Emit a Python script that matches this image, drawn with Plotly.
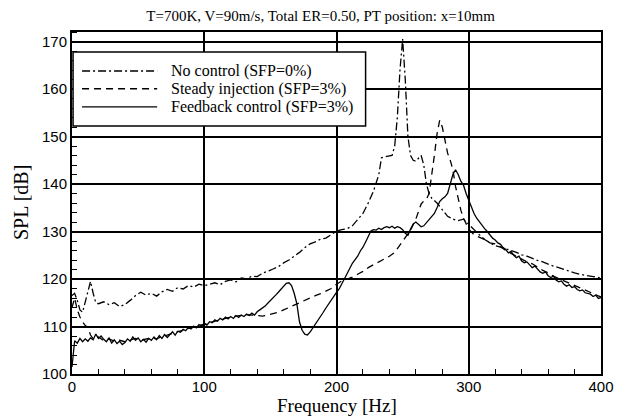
import plotly.graph_objects as go

# ---- data ----
f_noctrl = [0, 2, 4, 6, 8, 10, 12, 14, 16, 18, 20, 24, 28, 32, 36, 40, 44, 48, 52, 56,
            60, 64, 68, 72, 76, 80, 84, 88, 92, 96, 100, 104, 108, 112, 116, 120, 124, 128,
            132, 136, 140, 144, 148, 152, 156, 160, 164, 168, 172, 176, 180, 184, 188, 192,
            196, 200, 204, 208, 212, 216, 220, 224, 228, 232, 234, 238, 242, 244, 246, 248,
            250, 252, 254, 256, 258, 260, 262, 264, 266, 268, 270, 272, 276, 280, 284, 288,
            292, 296, 300, 304, 308, 312, 316, 320, 324, 328, 332, 336, 340, 344, 348, 352,
            356, 360, 364, 368, 372, 376, 380, 384, 388, 392, 396, 400]
spl_noctrl = [116.5, 117, 115.5, 113.5, 113, 115, 117, 119.5, 117, 115, 114.8, 115.2, 114.6,
              115, 114.2, 114.6, 115.5, 116.5, 117.2, 116.6, 117, 116.4, 117.3, 117.8, 117.4,
              118.2, 117.9, 118.6, 118.3, 118.9, 118.6, 118.9, 119.2, 118.8, 119.5, 119.8,
              119.4, 120.2, 120.0, 120.6, 120.5, 121.2, 121.6, 122.1, 122.6, 123.4, 124,
              124.8, 125.6, 126.6, 127.4, 127.8, 128.4, 128.6, 129.3, 130.1, 130.4, 130.6,
              131.2, 132.4, 133.8, 136, 138.5, 142, 145.5, 145.8, 146, 148, 154, 164, 170.5,
              162, 150, 146, 145, 144.8, 145.5, 146, 144, 140, 138, 137, 136, 134.5, 133.2,
              132.6, 132.3, 132.6, 131.5, 130.2, 129.3, 128.3, 127.6, 127, 126.7, 126.4, 126,
              125.6, 125.1, 124.8, 124.3, 123.9, 123.6, 123.1, 122.7, 122.4, 122.0, 121.7,
              121.3, 121.0, 120.8, 120.7, 120.4, 120.2]

f_steady = [0, 2, 4, 6, 8, 10, 12, 14, 16, 20, 24, 28, 32, 36, 40, 44, 48, 52, 56, 60, 64,
            68, 72, 76, 80, 84, 88, 92, 96, 100, 104, 108, 112, 116, 120, 124, 128, 132, 136,
            140, 144, 148, 152, 156, 160, 164, 168, 172, 176, 180, 184, 188, 192, 196, 200,
            204, 208, 212, 216, 220, 224, 228, 232, 236, 240, 244, 248, 252, 256, 260, 262,
            264, 266, 268, 270, 272, 274, 276, 278, 280, 282, 284, 286, 288, 290, 292, 294,
            296, 298, 300, 304, 308, 312, 316, 320, 324, 328, 332, 336, 340, 344, 348, 352,
            356, 360, 364, 368, 372, 376, 380, 384, 388, 392, 396, 400]
spl_steady = [114, 116, 113.5, 112, 111, 110.2, 109.8, 108.2, 107.4, 107.8, 107.0, 107.4,
              106.9, 107.1, 106.8, 107.2, 107.5, 107.1, 107.3, 107.6, 107.4, 107.9, 108.2,
              108.6, 108.9, 109.2, 109.6, 109.9, 110.2, 110.5, 110.8, 111.2, 111.5, 111.8,
              112, 112.2, 112.3, 112.5, 112.4, 112.3, 112.2, 112.4, 112.7, 113, 113.5, 114,
              114.5, 115, 115.6, 116.1, 116.5, 116.9, 117.4, 118, 118.9, 119.6, 120, 120.4,
              121, 121.6, 122.4, 123, 123.6, 124.2, 124.8, 125.6, 127.2, 128.8, 130.3, 132.6,
              134, 135.8, 136.4, 136.8, 138, 141.5, 146, 150.5, 153.4, 152, 149, 146.5, 145,
              143, 139.5, 136.8, 134.5, 132.8, 131.5, 130.5, 129.3, 128.8, 128.3, 127.6,
              127.4, 126.8, 126, 125.4, 124.8, 124.3, 123.6, 123.2, 122.5, 121.8, 121.3,
              120.6, 120.1, 119.6, 119.2, 118.7, 118.1, 117.6, 117.2, 116.6, 116.2]

f_feedback = [0, 1] + list(range(2, 401, 2))
spl_feedback = [101.5, 105, 107, 106.5, 107.5, 106.8, 107.4, 106.9, 107.6, 107.2, 108.4,
                107.5, 108, 107.3, 106.8, 107.6, 106.5, 107.2, 106.4, 106.9, 106.2, 106.6,
                107.4, 106.9, 107.8, 107.1, 107.6, 106.8, 107.3, 106.7, 107.5, 107.1, 107.8,
                107.2, 108.1, 107.5, 108.3, 107.7, 108.4, 108.9, 108.2, 109, 108.8, 109.4,
                109.1, 109.8, 109.5, 110.1, 109.7, 110.4, 110.1, 110.6, 110.3, 111, 110.8,
                111.4, 111.1, 111.7, 111.4, 112, 111.6, 112.1, 111.7, 112.3, 111.9, 112.4,
                112.1, 112.6, 112.3, 112.8, 112.4, 113.1, 113.5, 113.9, 114.3, 114.9, 115.4,
                116, 116.6, 117.2, 117.9, 118.6, 119.1, 119.2, 118.6, 117, 114.8, 111, 109.2,
                108.4, 108.2, 108.8, 109.6, 110.4, 111.3, 112, 113, 113.9, 114.8, 115.6,
                116.5, 117.2, 117.9, 118.9, 120.1, 121.1, 122.2, 123.3, 124.1, 124.8, 125.9,
                126.7, 127.8, 128.9, 130.1, 130.4, 130.3, 130.7, 130.4, 130.8, 131, 130.8,
                131.1, 130.7, 131, 130.8, 130.4, 129.6, 129.2, 130.5, 131.6, 132, 131.5, 131,
                131.2, 131.8, 132.4, 133.1, 133.8, 135, 136.3, 136.9, 137.3, 138, 140, 142,
                143, 142, 140.6, 139.8, 138, 136.5, 135, 133.8, 132.8, 132, 131.2, 130.6, 130,
                129.3, 128.6, 128.2, 127.6, 127.3, 126.6, 126.2, 125.5, 125.8, 125, 124.5,
                124.8, 123.8, 123.4, 123.6, 122.9, 122.4, 122.7, 122, 121.5, 121.2, 121.5,
                120.7, 120.3, 120.6, 119.8, 119.4, 119.6, 118.9, 118.5, 118.8, 118.2, 118.4,
                117.8, 117.5, 117.7, 117.1, 117, 116.8, 116.3, 116.6, 115.9, 116.1]

names = ['No control (SFP=0%)', 'Steady injection (SFP=3%)', 'Feedback control (SFP=3%)']
dashes = ['8px,3px,2px,3px', '7px,5px', 'solid']

serif = 'Liberation Serif'
sans = 'Liberation Sans'

fig = go.Figure()
for fx, fy, nm, ds in zip([f_noctrl, f_steady, f_feedback],
                          [spl_noctrl, spl_steady, spl_feedback], names, dashes):
    fig.add_trace(go.Scatter(x=fx, y=fy, mode='lines', name=nm,
                             line=dict(color='black', width=1.3, dash=ds)))

# hand-made legend (plotly's legend samples are too short)
fig.add_shape(type='rect', xref='paper', yref='paper', x0=0.002, x1=0.555, y0=0.725, y1=0.9415,
              line=dict(color='black', width=1.5), fillcolor='white', layer='above')
leg_y = [0.886, 0.834, 0.781]
for yy, nm, ds in zip(leg_y, names, dashes):
    fig.add_shape(type='line', xref='paper', yref='paper', x0=0.019, x1=0.161, y0=yy, y1=yy,
                  line=dict(color='black', width=1.3, dash=ds), layer='above')
    fig.add_annotation(text=nm, xref='paper', yref='paper', x=0.185, y=yy, xanchor='left',
                       yanchor='middle', showarrow=False, borderpad=0,
                       font=dict(family=serif, size=16, color='black'))

# axis titles placed by hand
fig.add_annotation(text='Frequency [Hz]', xref='paper', yref='paper', x=0.5, y=-0.091,
                   xanchor='center', yanchor='middle', showarrow=False, borderpad=0,
                   font=dict(family=serif, size=19, color='black'))
fig.add_annotation(text='SPL [dB]', xref='paper', yref='paper', x=-0.119, y=0.5, textangle=-90,
                   xanchor='left', yanchor='middle', showarrow=False, borderpad=0,
                   font=dict(family=serif, size=20, color='black'))

# page has an 8px body margin, so the margins are shifted by that much
fig.update_layout(
    width=629, height=416,
    margin=dict(l=64, r=36, t=24, b=50),
    paper_bgcolor='white', plot_bgcolor='white',
    showlegend=False,
    title=dict(text='T=700K, V=90m/s, Total ER=0.50, PT position: x=10mm',
               x=0.47, xref='paper', xanchor='center', y=0.981, yref='container', yanchor='middle',
               font=dict(family=serif, size=15, color='black')),
)
fig.update_xaxes(range=[0, 400], dtick=100, showgrid=True, gridcolor='black', gridwidth=1.5,
                 showline=True, linecolor='black', linewidth=2, mirror=True,
                 ticks='', zeroline=False, automargin=False, ticklabelstandoff=-2,
                 tickfont=dict(family=sans, size=15, color='black'),
                 minor=dict(dtick=20, ticks='inside', ticklen=5, tickcolor='black', tickwidth=1.2))
fig.update_yaxes(range=[100, 172], tick0=100, dtick=10, showgrid=True, gridcolor='black', gridwidth=1.5,
                 showline=True, linecolor='black', linewidth=2, mirror=True,
                 ticks='', zeroline=False, automargin=False,
                 tickfont=dict(family=sans, size=15, color='black'),
                 minor=dict(dtick=2, ticks='inside', ticklen=5, tickcolor='black', tickwidth=1.2))

fig.write_html("out.html")
